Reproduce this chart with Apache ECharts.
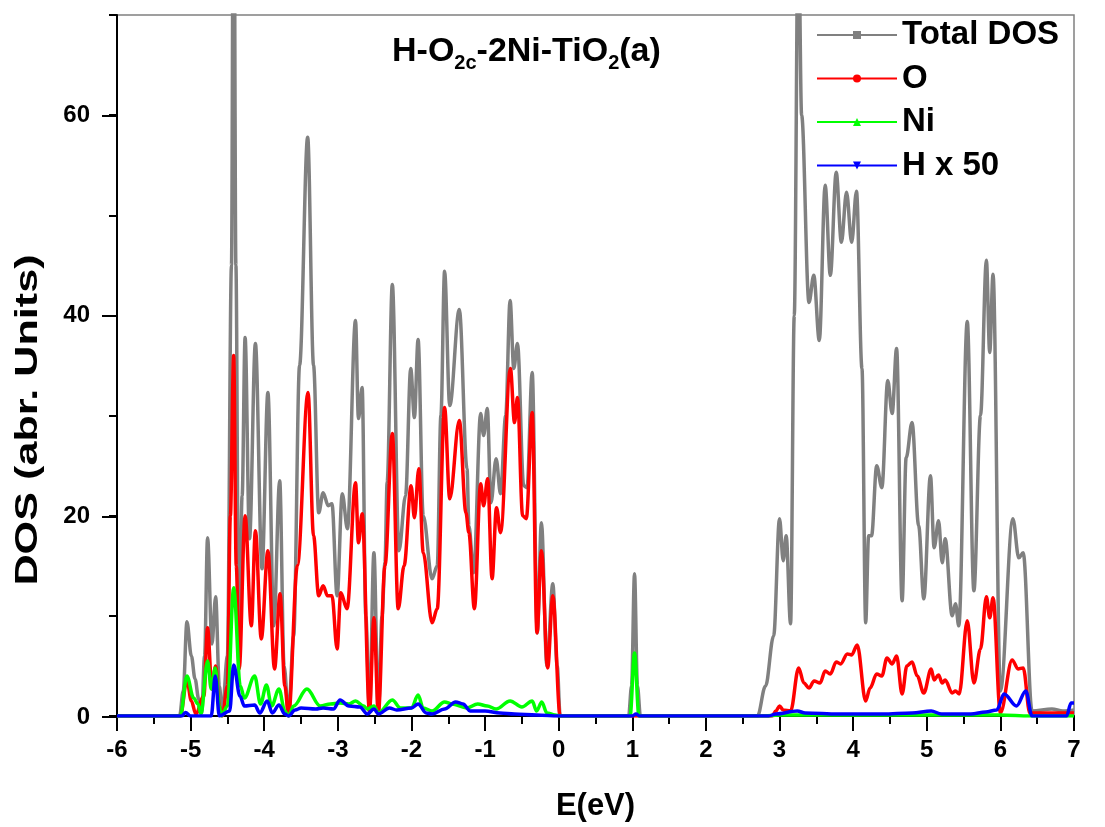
<!DOCTYPE html>
<html><head><meta charset="utf-8">
<script src="https://cdn.jsdelivr.net/npm/echarts@6/dist/echarts.min.js"></script>
<style>html,body{margin:0;padding:0;background:#fff}#c{width:1105px;height:827px}</style>
</head><body><div id="c"></div>
<script>
// E (eV), DOS values
const totalDOS = [[-6,0],[-5.15,0],[-5.10,2.5],[-5.05,9.4],[-4.99,6],[-4.94,3.7],[-4.89,1.7],[-4.85,0.3],[-4.81,6],[-4.77,17.8],[-4.71,7.2],[-4.66,11.9],[-4.61,3],[-4.57,0.2],[-4.50,6],[-4.445,45],[-4.415,95],[-4.385,45],[-4.345,5.5],[-4.30,22],[-4.26,37.8],[-4.20,17.7],[-4.12,37.2],[-4.03,14.7],[-3.95,32.3],[-3.87,9],[-3.79,23.5],[-3.73,5],[-3.67,0.2],[-3.60,8],[-3.52,35],[-3.41,57.8],[-3.33,35],[-3.26,20.3],[-3.20,22.3],[-3.13,21],[-3.08,21.2],[-3.01,12],[-2.94,22.2],[-2.87,18.7],[-2.76,39.5],[-2.72,29.7],[-2.67,32.8],[-2.62,10],[-2.57,0.3],[-2.51,16.3],[-2.45,0.3],[-2.40,10],[-2.36,15.3],[-2.33,23.4],[-2.26,43.1],[-2.17,16.5],[-2.08,22],[-2.01,34.7],[-1.96,29.8],[-1.91,37.6],[-1.84,20],[-1.72,13.7],[-1.65,15],[-1.60,30],[-1.55,44.4],[-1.48,31],[-1.35,40.6],[-1.245,24.7],[-1.22,19],[-1.155,14.3],[-1.06,30.2],[-1.02,28],[-0.97,30.7],[-0.92,21.3],[-0.85,25.7],[-0.79,22.2],[-0.72,30],[-0.66,41.5],[-0.61,34.7],[-0.56,37.2],[-0.475,23],[-0.43,22.8],[-0.36,34.3],[-0.29,8.3],[-0.235,19.3],[-0.16,5],[-0.08,13.2],[-0.02,5],[0.02,0],[0.95,0],[0.99,3],[1.03,14.2],[1.07,3],[1.11,0],[2.70,0],[2.81,3],[2.92,8],[3.0,19.7],[3.05,15.5],[3.09,18],[3.15,9.2],[3.20,40],[3.255,80],[3.30,60],[3.40,41.3],[3.465,44],[3.54,37.5],[3.62,53],[3.69,44],[3.77,54.3],[3.84,47.3],[3.91,52.3],[3.98,47.3],[4.045,52.4],[4.12,34.7],[4.17,9.3],[4.21,18],[4.25,18],[4.32,25],[4.39,22.8],[4.47,33.5],[4.53,30.2],[4.59,36.7],[4.665,11.5],[4.72,25.8],[4.80,29.3],[4.89,19],[4.96,11.7],[5.05,24],[5.10,16.8],[5.16,19.5],[5.21,15.3],[5.25,17.7],[5.345,10],[5.39,11.2],[5.435,9],[5.55,39.4],[5.64,12.5],[5.73,30],[5.81,45.5],[5.855,36.3],[5.90,44.1],[6.0,2.5],[6.17,19.7],[6.25,15.8],[6.31,16.3],[6.43,0.5],[6.7,0.7],[6.85,0.5],[7,0.6]];
const oxygenDOS = [[-6,0],[-5.14,0],[-5.05,3.6],[-4.99,1.5],[-4.93,0.2],[-4.82,2],[-4.77,8.8],[-4.71,2.7],[-4.66,5.0],[-4.61,1],[-4.57,0],[-4.50,3],[-4.46,20],[-4.415,36],[-4.38,15],[-4.34,4.7],[-4.26,20],[-4.175,9],[-4.12,18.5],[-4.04,7.7],[-3.95,16.5],[-3.86,4.7],[-3.785,12.2],[-3.72,3],[-3.67,0],[-3.55,15],[-3.405,32.3],[-3.33,18],[-3.26,12],[-3.2,13],[-3.14,12],[-3.08,12],[-3.01,6.7],[-2.96,12.3],[-2.875,10.7],[-2.76,23.3],[-2.72,17.3],[-2.67,20.2],[-2.57,0.5],[-2.51,9.8],[-2.45,0.3],[-2.36,15],[-2.26,28.2],[-2.18,10.7],[-2.10,15],[-2.005,23],[-1.96,19.8],[-1.90,24.7],[-1.84,16.3],[-1.72,9.3],[-1.65,10.7],[-1.55,30.8],[-1.48,21.7],[-1.35,29.5],[-1.26,20.3],[-1.22,18.3],[-1.145,10.7],[-1.06,23.2],[-1.02,21],[-0.965,23.7],[-0.905,13.7],[-0.845,20.8],[-0.79,18.3],[-0.656,34.7],[-0.60,29.3],[-0.56,31.8],[-0.49,20],[-0.44,19.7],[-0.36,30.3],[-0.295,8.3],[-0.235,16.5],[-0.15,4.8],[-0.08,12],[0.02,0],[2.90,0],[2.95,0.5],[3.0,1.0],[3.05,0.6],[3.15,0.5],[3.26,4.8],[3.33,3.3],[3.40,2.8],[3.47,3.5],[3.55,3.3],[3.62,4.5],[3.69,4.2],[3.77,5.4],[3.83,5.2],[3.92,6.2],[3.98,6.1],[4.055,7.1],[4.17,1.5],[4.23,2.8],[4.32,4.2],[4.39,4.0],[4.46,5.8],[4.53,5.2],[4.59,6.0],[4.665,2.2],[4.73,5],[4.80,5.4],[4.87,4],[4.96,2.3],[5.06,4.7],[5.10,3.6],[5.16,4.1],[5.21,3.3],[5.25,3.6],[5.345,2.3],[5.39,2.5],[5.44,2.2],[5.55,9.5],[5.64,3.3],[5.73,6.7],[5.81,11.9],[5.855,9.8],[5.90,11.8],[6.0,0.3],[6.16,5.6],[6.24,4.7],[6.31,4.8],[6.40,0.3],[7,0.3]];
const nickelDOS = [[-6,0],[-5.14,0],[-5.05,4.0],[-4.96,1.8],[-4.90,1.2],[-4.86,0.2],[-4.77,5.5],[-4.72,2.7],[-4.665,4.8],[-4.61,1],[-4.58,0],[-4.50,1],[-4.415,12.8],[-4.325,3],[-4.27,1.8],[-4.13,4.0],[-4.05,1.2],[-3.97,3.1],[-3.90,1.0],[-3.80,2.7],[-3.72,0.5],[-3.67,0],[-3.60,1.0],[-3.42,2.7],[-3.24,1.0],[-3.1,1.2],[-2.97,1.3],[-2.85,1.2],[-2.76,1.5],[-2.65,1.0],[-2.6,0.7],[-2.51,1.0],[-2.45,0.3],[-2.26,1.6],[-2.15,0.8],[-2.0,0.8],[-1.91,2.1],[-1.84,0.8],[-1.72,0.5],[-1.55,1.4],[-1.45,1.2],[-1.25,0.8],[-1.10,1.2],[-0.97,1.0],[-0.85,0.7],[-0.66,1.5],[-0.50,0.9],[-0.36,1.5],[-0.30,0.5],[-0.23,1.4],[-0.16,0.3],[-0.05,0.1],[0.02,0],[0.97,0],[1.03,6.3],[1.09,0],[2.8,0],[3.0,0.1],[6.0,0.1],[6.4,0],[7,0]];
const hydrogenDOS = [[-6,0],[-5.12,0],[-5.07,0.35],[-5.0,0],[-4.72,0],[-4.665,4.0],[-4.61,0],[-4.47,0.5],[-4.415,5.1],[-4.33,2.0],[-4.27,1.0],[-4.13,1.1],[-4.06,0.3],[-3.96,1.5],[-3.89,0.3],[-3.8,1.1],[-3.72,0.2],[-3.67,0],[-3.58,0.6],[-3.5,0.8],[-3.3,0.7],[-3.2,0.8],[-3.06,0.7],[-2.97,1.6],[-2.85,1.0],[-2.7,0.9],[-2.6,0.2],[-2.51,0.7],[-2.45,0.2],[-2.3,0.8],[-2.2,0.6],[-2.0,0.8],[-1.91,1.2],[-1.8,0.3],[-1.72,0.2],[-1.55,0.7],[-1.40,1.4],[-1.3,1.2],[-1.2,0.5],[-1.0,0.5],[-0.8,0.3],[-0.6,0.2],[-0.3,0.1],[0,0],[1.0,0],[1.05,0.2],[1.1,0],[2.85,0],[2.95,0.2],[3.24,0.5],[3.35,0.3],[3.8,0.2],[4.4,0.2],[4.8,0.3],[5.06,0.5],[5.2,0.2],[5.6,0.2],[5.8,0.4],[5.95,0.6],[6.05,2.2],[6.22,1.0],[6.345,2.5],[6.43,0],[6.9,0],[6.96,1.3],[7,1.3]];
const seriesNames = ['Total DOS','O','Ni','H x 50'];
const seriesColors = ['#808080','#ff0000','#00ff00','#0000ff'];
const seriesSymbols = ['rect','circle','triangle','triangle'];
const seriesData = [totalDOS, oxygenDOS, nickelDOS, hydrogenDOS];

const FONT = '"Liberation Sans", Arial, sans-serif';
const chart = echarts.init(document.getElementById('c'), null, {renderer:'canvas'});
const gridPos = {left:117, right:31, bottom:110};
chart.setOption({
  animation:false,
  backgroundColor:'#fff',
  title:{
    left:387, top:27,
    text:'{m|H-O}{s|2c}{m|-2Ni-TiO}{s|2}{m|(a)}',
    textStyle:{ rich:{
      m:{fontSize:34, fontWeight:'bold', fontFamily:FONT, color:'#000', lineHeight:40},
      s:{fontSize:20, fontWeight:'bold', fontFamily:FONT, color:'#000', lineHeight:40, padding:[22,0,0,0]}
    }}
  },
  legend:{
    orient:'vertical', left:811, top:12, itemWidth:80, itemHeight:10, itemGap:7.5,
    selectedMode:false,
    textStyle:{fontSize:33, fontWeight:'bold', fontFamily:FONT, color:'#000', lineHeight:36, padding:[0,0,0,0]},
    data:seriesNames
  },
  grid:[
    Object.assign({top:15, show:true, borderColor:'#808080', borderWidth:1.5}, gridPos),
    Object.assign({top:115.3}, gridPos)
  ],
  xAxis:[
    {type:'value', gridIndex:0, min:-6, max:7, interval:1,
     name:'E(eV)', nameLocation:'middle', nameGap:75,
     nameTextStyle:{fontSize:31, fontWeight:'bold', fontFamily:FONT, color:'#000'},
     axisLine:{show:true, onZero:false, lineStyle:{color:'#000', width:2}},
     axisTick:{show:true, length:15, lineStyle:{color:'#000', width:2}},
     minorTick:{show:true, splitNumber:2, length:8, lineStyle:{color:'#000', width:2}},
     axisLabel:{fontSize:24, fontWeight:'bold', fontFamily:FONT, color:'#000', margin:22},
     splitLine:{show:false}},
    {type:'value', gridIndex:1, min:-6, max:7, show:false}
  ],
  yAxis:[
    {type:'value', gridIndex:0, min:0, max:70, interval:10, position:'left',
     axisLine:{show:true, onZero:false, lineStyle:{color:'#000', width:2}},
     axisTick:{show:true, length:8, lineStyle:{color:'#000', width:2}},
     axisLabel:{show:false}, splitLine:{show:false}},
    {type:'value', gridIndex:1, min:0, max:60, interval:20, position:'left',
     axisLine:{show:false, onZero:false},
     axisTick:{show:true, length:15, lineStyle:{color:'#000', width:2}},
     axisLabel:{fontSize:24, fontWeight:'bold', fontFamily:FONT, color:'#000', margin:27},
     splitLine:{show:false}}
  ],
  graphic:[{
    type:'text', x:28, y:420, rotation:Math.PI/2, scaleX:1.35, scaleY:1,
    style:{text:'DOS (abr. Units)', fontSize:32, fontWeight:'bold', fontFamily:FONT,
           fill:'#000', textAlign:'center', textVerticalAlign:'middle'}
  }],
  series: seriesData.map((d,i)=>({
    name:seriesNames[i], type:'line', xAxisIndex:0, yAxisIndex:0,
    data:d, smooth:0.35, smoothMonotone:'x', showSymbol:false,
    symbol:seriesSymbols[i], symbolSize:9, symbolRotate: i===3 ? 180 : 0,
    clip:true,
    lineStyle:{color:seriesColors[i], width:3.5},
    itemStyle:{color:seriesColors[i]},
    z: 2+i
  }))
});
</script></body></html>
